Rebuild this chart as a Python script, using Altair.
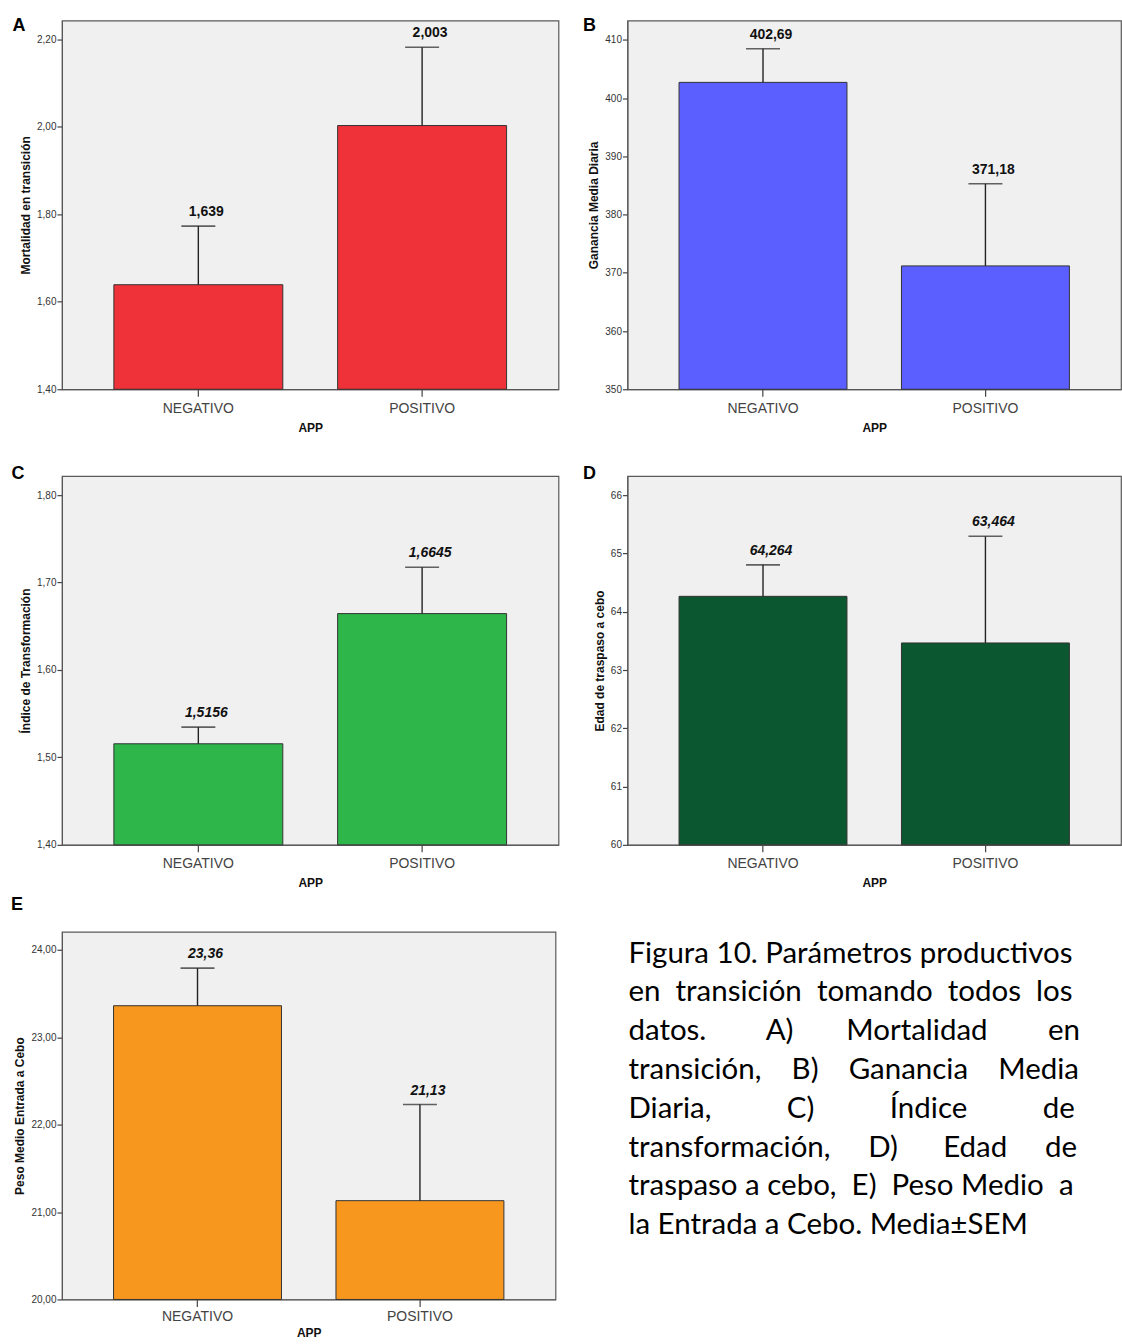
import altair as alt
import pandas as pd

categories = ["NEGATIVO", "POSITIVO"]

a_means = [1.639, 2.003]
a_sems = [0.134, 0.179]
a_labels = ["1,639", "2,003"]

b_means = [402.69, 371.18]
b_sems = [5.77, 14.1]
b_labels = ["402,69", "371,18"]

c_means = [1.5156, 1.6645]
c_sems = [0.019, 0.053]
c_labels = ["1,5156", "1,6645"]

d_means = [64.264, 63.464]
d_sems = [0.54, 1.83]
d_labels = ["64,264", "63,464"]

e_means = [23.36, 21.13]
e_sems = [0.43, 1.10]
e_labels = ["23,36", "21,13"]

a_ticks = [1.40, 1.60, 1.80, 2.00, 2.20]
b_ticks = [350, 360, 370, 380, 390, 400, 410]
c_ticks = [1.40, 1.50, 1.60, 1.70, 1.80]
d_ticks = [60, 61, 62, 63, 64, 65, 66]
e_ticks = [20.0, 21.0, 22.0, 23.0, 24.0]

S = "\u00a0"
caption_lines = [
    "Figura 10. Parámetros productivos",
    ("en" + S * 2 + "transición" + S * 2 + "tomando" + S * 2 + "todos" + S * 2 + "los"),
    ("datos." + S * 8 + "A)" + S * 7 + "Mortalidad" + S * 8 + "en"),
    ("transición," + S * 4 + "B)" + S * 4 + "Ganancia" + S * 4 + "Media"),
    ("Diaria," + S * 10 + "C)" + S * 10 + "Índice" + S * 10 + "de"),
    ("transformación," + S * 5 + "D)" + S * 6 + "Edad" + S * 5 + "de"),
    ("traspaso" + S + "a" + S + "cebo," + S * 2 + "E)" + S * 2 + "Peso" + S + "Medio" + S * 2 + "a"),
    "la Entrada a Cebo. Media±SEM",
]

FONT = "Liberation Sans"


def panel(letter, means, sems, labels, color, ytitle, ydomain, yticks, tickfmt,
          italic, width, height, lx, ly, xlab_pad, xtitle_pad):
    df = pd.DataFrame({
        "APP": categories,
        "mean": means,
        "upper": [m + s for m, s in zip(means, sems)],
        "label": labels,
    })
    base = alt.Chart(df)
    xenc = alt.X(
        "APP:N", sort=categories,
        scale=alt.Scale(paddingInner=0.245, paddingOuter=0.232),
        axis=alt.Axis(title="APP", labelAngle=0, labelFont=FONT, labelFontSize=14,
                      labelColor="#444444", tickSize=7, tickColor="#444444",
                      tickWidth=1.2, labelPadding=xlab_pad, domainColor="#555555",
                      titleFont=FONT, titleFontSize=12, titleFontWeight="bold",
                      titleColor="#111111", titlePadding=xtitle_pad),
    )
    yscale = alt.Scale(domain=ydomain, nice=False, zero=False)
    yaxis = alt.Axis(
        title=ytitle, values=yticks,
        labelExpr=f"replace(format(datum.value, '{tickfmt}'), '.', ',')",
        grid=False, tickSize=5, tickColor="#444444", tickWidth=1.2,
        domainColor="#555555", labelFont=FONT, labelFontSize=10,
        labelColor="#333333", labelPadding=1, titleFont=FONT,
        titleFontSize=12, titleFontWeight="bold", titleColor="#111111",
        titlePadding=4,
    )
    bars = base.mark_bar(color=color, stroke="#333333", strokeWidth=1).encode(
        x=xenc, y=alt.Y("mean:Q", scale=yscale, axis=yaxis),
        y2=alt.datum(ydomain[0]),
    )
    rule = base.mark_rule(color="#222222", strokeWidth=1.4).encode(
        x=xenc, y="mean:Q", y2="upper:Q")
    cap = base.mark_tick(color="#222222", thickness=1.6, size=34).encode(
        x=xenc, y="upper:Q")
    text = base.mark_text(
        font=FONT, fontSize=14, fontWeight="bold",
        fontStyle="italic" if italic else "normal",
        color="#111111", dx=8, dy=-14, baseline="middle",
    ).encode(x=xenc, y="upper:Q", text="label:N")
    lett = alt.Chart(pd.DataFrame({"t": [letter]})).mark_text(
        font=FONT, fontSize=18, fontWeight="bold", color="#000000",
        align="center", baseline="middle",
    ).encode(x=alt.value(lx), y=alt.value(ly), text="t:N")
    return alt.layer(bars, rule, cap, text, lett).properties(width=width, height=height)


pA = panel("A", a_means, a_sems, a_labels, "#EF3139", "Mortalidad en transición",
           [1.40, 2.243], a_ticks, ".2f", False, 497, 369, -43, 5, 5, 7)
pB = panel("B", b_means, b_sems, b_labels, "#5B5FFF", "Ganancia Media Diaria",
           [350, 413.3], b_ticks, "d", False, 494, 369, -38, 5, 5, 7)
pC = panel("C", c_means, c_sems, c_labels, "#2EB64A", "Índice de Transformación",
           [1.40, 1.8217], c_ticks, ".2f", True, 497, 369, -44, -2, 5, 7)
pD = panel("D", d_means, d_sems, d_labels, "#0B572F", "Edad de traspaso a cebo",
           [60, 66.326], d_ticks, "d", True, 494, 369, -38, -2, 5, 7)
pE = panel("E", e_means, e_sems, e_labels, "#F7971E", "Peso Medio Entrada a Cebo",
           [20, 24.206], e_ticks, ".2f", True, 494, 368, -45, -27, 3, 4)

caption = alt.Chart(
    pd.DataFrame({"k": [0]}),
    view=alt.ViewBackground(fill="white", stroke="white", strokeWidth=0),
).mark_text(
    font="Lato", fontSize=29.5, color="#000000", align="left",
    baseline="alphabetic", lineHeight=38.8,
).encode(x=alt.value(1), y=alt.value(31), text=alt.value(caption_lines)).properties(
    width=486, height=368)

chart = alt.concat(
    pA, pB, pC, pD, pE, caption,
    columns=2, spacing={"row": 87, "column": 69}, bounds="flush",
).configure_view(
    fill="#F0F0F0", stroke="#5A5A5A", strokeWidth=1.2
).properties(
    padding={"left": 10, "top": 15, "right": 0, "bottom": 0},
    background="white",
)

chart.save("out.html", embed_options={"renderer": "svg", "actions": False})
